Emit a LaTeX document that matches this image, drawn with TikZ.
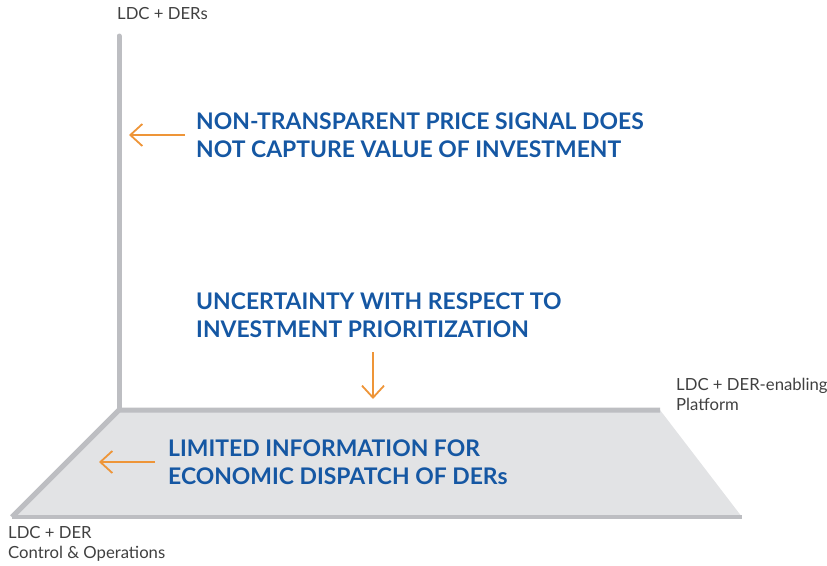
\documentclass[tikz,border=0pt]{standalone}
\usepackage{fontspec}
\setmainfont{Lato}
\usetikzlibrary{arrows.meta}
\definecolor{axisgray}{HTML}{BDBEC2}
\definecolor{planefill}{HTML}{E2E3E5}
\definecolor{headblue}{HTML}{1557A3}
\definecolor{arrorange}{HTML}{EE9538}
\definecolor{labgray}{HTML}{404040}
\tikzset{
  head/.style={text=headblue, font=\fontsize{22.9}{28.5}\selectfont\bfseries, align=left, inner sep=0pt, anchor=north west},
  lab/.style={text=labgray, font=\fontsize{16.7}{20}\selectfont, align=left, inner sep=0pt, anchor=north west},
  pointer/.style={draw=arrorange, line width=1.8pt, -{Straight Barb[length=12pt,width=22pt,line width=1.8pt]}},
  axis/.style={draw=axisgray, line width=5pt}
}
\begin{document}
\begin{tikzpicture}[x=1pt,y=-1pt]
\useasboundingbox (0,0) rectangle (827,565);
% plane
\coordinate (tl) at (119,410);
\coordinate (tr) at (660,410);
\coordinate (br) at (742,517);
\coordinate (bl) at (12,517);
\coordinate (top) at (119,36);
\fill[planefill] (tl) -- (tr) -- (br) -- (bl) -- cycle;
\draw[axis, line join=miter] (tr) -- (tl) -- (bl);
\draw[draw=axisgray, line width=4pt] (bl) -- (br);
\draw[axis, line cap=round] (top) -- (tl);
% labels
\node[lab] (l1) at (117,7) {LDC + DERs};
\node[lab] (l2) at (676,378) {LDC + DER-enabling\\Platform};
\node[lab] (l3) at (8,526) {LDC + DER\\Control \& Operations};
% headings
\node[head] (h1) at (196,112.5) {NON-TRANSPARENT PRICE SIGNAL DOES\\NOT CAPTURE VALUE OF INVESTMENT};
\node[head] (h2) at (196,292.5) {UNCERTAINTY WITH RESPECT TO\\INVESTMENT PRIORITIZATION};
\node[head] (h3) at (168,439.5) {LIMITED INFORMATION FOR\\ECONOMIC DISPATCH OF DERs};
% arrows
\coordinate (a1s) at (185,135);
\coordinate (a1e) at (129,135);
\coordinate (a2s) at (373,352);
\coordinate (a2e) at (373,399);
\coordinate (a3s) at (155,462);
\coordinate (a3e) at (99,462);
\draw[pointer] (a1s) -- (a1e);
\draw[pointer] (a2s) -- (a2e);
\draw[pointer] (a3s) -- (a3e);
\end{tikzpicture}
\end{document}
